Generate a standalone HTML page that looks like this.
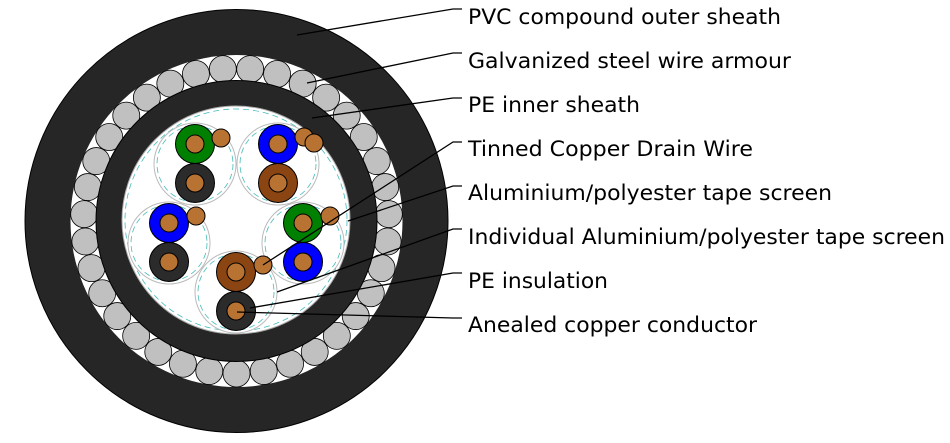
<!DOCTYPE html>
<html><head><meta charset="utf-8"><style>
html,body{margin:0;padding:0;background:#fff;}
svg{display:block;}
text{font-family:"DejaVu Sans","Liberation Sans",sans-serif;font-size:21px;fill:#000;}
</style></head><body>
<svg width="950" height="443" viewBox="0 0 950 443" xmlns="http://www.w3.org/2000/svg">
<circle cx="236.5" cy="221" r="211.5" fill="#262626" stroke="#000" stroke-width="1"/>
<circle cx="236.5" cy="221" r="166" fill="#fff"/>
<g id="armour" fill="#c0c0c0" stroke="#000" stroke-width="0.8"></g>
<circle cx="236.5" cy="221" r="140.5" fill="#262626" stroke="#000" stroke-width="1"/>
<circle cx="236" cy="220" r="114" fill="#fff" stroke="#aaa" stroke-width="1"/>
<circle cx="236" cy="220" r="111" fill="none" stroke="#4bb" stroke-width="0.8" stroke-dasharray="6,4"/>
<g id="pairs"></g>
<g stroke="#000" stroke-width="1.3" fill="none">
<polyline points="297,35 453,9 462,9"/>
<polyline points="307,83 453,53 462,53"/>
<polyline points="312,118 453,98 462,98"/>
<polyline points="263,265 453,142 462,142"/>
<polyline points="348,221 453,186 462,186"/>
<polyline points="277,292 453,229 462,229"/>
<polyline points="250,308 453,273 462,273"/>
<polyline points="237,312 453,318 462,318"/>
</g>
<text x="468" y="24" textLength="313" lengthAdjust="spacingAndGlyphs">PVC compound outer sheath</text>
<text x="468" y="68" textLength="323" lengthAdjust="spacingAndGlyphs">Galvanized steel wire armour</text>
<text x="468" y="112" textLength="172" lengthAdjust="spacingAndGlyphs">PE inner sheath</text>
<text x="468" y="156" textLength="285" lengthAdjust="spacingAndGlyphs">Tinned Copper Drain Wire</text>
<text x="468" y="200" textLength="364" lengthAdjust="spacingAndGlyphs">Aluminium/polyester tape screen</text>
<text x="468" y="244" textLength="477" lengthAdjust="spacingAndGlyphs">Individual Aluminium/polyester tape screen</text>
<text x="468" y="288" textLength="140" lengthAdjust="spacingAndGlyphs">PE insulation</text>
<text x="468" y="332" textLength="289" lengthAdjust="spacingAndGlyphs">Anealed copper conductor</text>
</svg>
<script>
var ns="http://www.w3.org/2000/svg";
function c(p,x,y,r,f,s,w,d){var e=document.createElementNS(ns,"circle");e.setAttribute("cx",x);e.setAttribute("cy",y);e.setAttribute("r",r);e.setAttribute("fill",f);e.setAttribute("stroke",s||"#000");e.setAttribute("stroke-width",w||1);if(d)e.setAttribute("stroke-dasharray",d);p.appendChild(e);}
var a=document.getElementById("armour");
for(var i=0;i<35;i++){var t=Math.PI/2+i*2*Math.PI/35;c(a,236.5+152.5*Math.cos(t),221+152.5*Math.sin(t),13.5,"#c0c0c0","#000",0.8);}
var p=document.getElementById("pairs");
var P=[
 [195,164,"#008000","#2b2b2b",[[221,138]]],
 [278,164,"#0000ff","#8b4513",[[304,137],[314,143]]],
 [169,243,"#0000ff","#2b2b2b",[[196,216]]],
 [303,243,"#008000","#0000ff",[[330,216]]],
 [236,292,"#8b4513","#2b2b2b",[[263,265]]]
];
P.forEach(function(q){var x=q[0],y=q[1];
 c(p,x,y,41,"#fff","#bbb",1);
 c(p,x,y,38,"none","#4bb",0.8,"6,4");
});
P.forEach(function(q){var x=q[0],y=q[1];
 c(p,x,y-20,19.5,q[2]);c(p,x,y-20,9,"#b87333");
 c(p,x,y+19,19.5,q[3]);c(p,x,y+19,9,"#b87333");
 q[4].forEach(function(d){c(p,d[0],d[1],9,"#b87333");});
});
</script>
</body></html>
